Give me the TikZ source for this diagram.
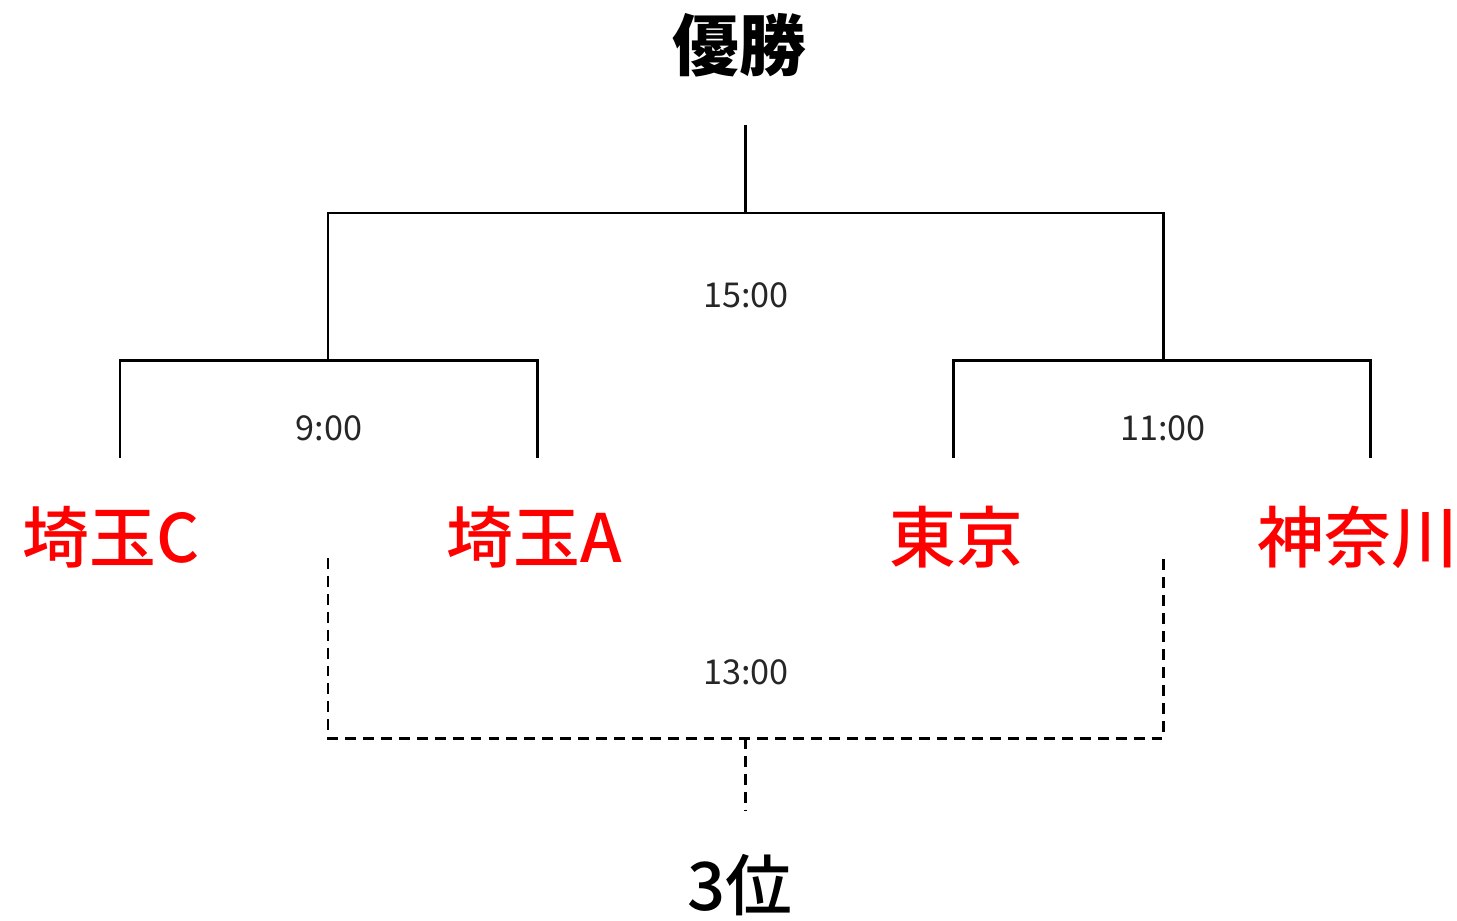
\documentclass[tikz,border=0pt]{standalone}
\usepackage{fontspec}
\newfontfamily\jpfont{Noto Sans CJK JP}
\newfontfamily\jpmed{Noto Sans CJK JP Medium}
\usetikzlibrary{positioning}

\begin{document}
\begin{tikzpicture}[x=0.02cm, y=-0.02cm,
  team/.style={font=\jpmed\fontsize{38}{40}\selectfont, text=red, inner sep=0pt},
  prize/.style={font=\jpmed\fontsize{38}{40}\selectfont, inner sep=0pt},
  kickoff/.style={font=\jpfont\fontsize{19.5}{21}\selectfont, text=black!85, inner sep=0pt},
  bracket/.style={line width=1.7pt},
  loser/.style={line width=1.7pt, dash pattern=on 6.2pt off 4pt}]
  \useasboundingbox (0,0) rectangle (1457,920);

  % Teams
  \foreach \name/\x/\lab in {tC/111/埼玉C, tA/534/埼玉A, tT/956/東京, tK/1358/神奈川} {
    \node[team] (\name) at (\x,537) {\lab};
  }

  % Prizes
  \node[prize, font=\jpfont\bfseries\fontsize{38}{40}\selectfont] (champ) at (739,45) {優勝};
  \node[prize] (third) at (740,885) {3位};

  % Bracket ends and joints
  \foreach \name/\x in {eC/120, eA/537, eT/953, eK/1370} {
    \coordinate (\name) at (\x,458);
  }
  \coordinate (j1) at (328,360);
  \coordinate (j2) at (1163,360);
  \coordinate (jf) at (745,213);
  \coordinate (win) at (745,125);
  \coordinate (l1) at (328,558);
  \coordinate (l2) at (1163,558);
  \coordinate (j3) at (745,738);
  \coordinate (bronze) at (745,810);

  % Winners' bracket
  \draw[bracket] (eC) |- (j1) -| (eA);
  \draw[bracket] (eT) |- (j2) -| (eK);
  \draw[bracket] (j1) |- (jf) -| (j2);
  \draw[bracket] (jf) -- (win);

  % Third place match
  \draw[loser] (l1) |- (j3) -| (l2);
  \draw[loser] (j3) -- (bronze);

  % Kick-off times
  \node[kickoff] (m1) at (329,428) {9:00};
  \node[kickoff] (m2) at (1163,428) {11:00};
  \node[kickoff] (m3) at (746,672) {13:00};
  \node[kickoff] (m4) at (746,295) {15:00};
\end{tikzpicture}
\end{document}
